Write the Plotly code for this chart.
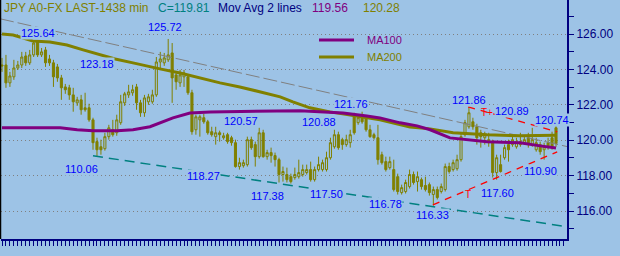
import plotly.graph_objects as go

# ---------------- data ----------------
opens = [124.25, 124.25, 123.24, 123.58, 124.08, 124.25, 124.76, 124.37, 124.82, 125.55,
         124.82, 125.10, 124.59, 124.37, 124.14, 123.52, 123.01, 122.96, 122.56, 122.11,
         122.28, 121.83, 121.83, 121.15, 119.92, 119.63, 119.52, 120.20, 120.59, 120.42,
         120.99, 122.11, 122.56, 122.68, 123.01, 122.11, 121.55, 122.17, 122.17, 122.56,
         124.42, 124.37, 124.54, 124.93, 123.69, 123.24, 123.58, 123.58, 122.68, 120.59,
         121.15, 121.27, 121.04, 120.48, 120.20, 120.42, 120.14, 120.31, 120.14, 119.86,
         118.51, 118.56, 118.62, 120.03, 119.75, 119.07, 120.42, 119.07, 119.30, 119.13,
         118.90, 118.06, 118.06, 117.94, 117.89, 117.94, 118.06, 118.17, 118.34, 117.77,
         118.34, 118.34, 118.34, 119.01, 119.63, 120.31, 120.03, 119.75, 119.86, 121.32,
         120.99, 121.27, 121.27, 120.59, 120.31, 120.14, 119.18, 118.79, 118.45, 118.34,
         117.94, 117.04, 117.10, 117.38, 118.06, 117.66, 117.77, 117.44, 117.49, 116.93,
         117.21, 117.10, 117.21, 118.51, 118.34, 118.39, 118.90, 120.31, 120.76, 121.04,
         120.76, 120.42, 120.14, 120.03, 119.86, 118.17, 118.62, 119.01, 119.75, 119.75,
         119.63, 119.92, 119.86, 120.14, 119.75, 119.46, 119.75, 119.46, 119.86, 120.14,
         120.70]
highs = [124.65, 124.82, 123.86, 124.54, 124.48, 124.99, 124.99, 125.10, 125.64, 125.66,
         125.21, 125.27, 124.82, 124.54, 124.31, 123.69, 123.18, 123.13, 122.96, 122.45,
         122.56, 122.68, 122.06, 121.27, 120.14, 120.03, 120.42, 120.87, 121.15, 121.44,
         122.56, 122.73, 123.13, 123.13, 123.18, 122.28, 122.56, 122.62, 122.85, 124.70,
         124.99, 124.93, 125.72, 125.49, 123.86, 123.97, 123.97, 123.69, 122.85, 121.44,
         121.44, 121.49, 121.15, 120.76, 120.76, 120.54, 120.42, 120.42, 120.25, 120.03,
         119.01, 118.90, 120.20, 120.20, 119.92, 120.70, 120.59, 119.46, 119.58, 119.30,
         119.01, 118.51, 118.45, 118.11, 118.45, 118.90, 118.62, 118.62, 118.79, 118.51,
         119.07, 118.90, 119.35, 120.14, 120.59, 120.48, 120.14, 120.31, 120.59, 121.55,
         121.44, 121.61, 121.38, 120.87, 120.42, 120.87, 119.35, 119.07, 119.07, 118.90,
         118.11, 117.49, 117.77, 118.34, 118.23, 118.23, 117.89, 117.94, 117.61, 117.38,
         117.38, 117.55, 118.68, 118.73, 118.90, 119.18, 120.42, 121.15, 121.89, 121.27,
         120.93, 120.59, 120.48, 120.42, 120.03, 119.18, 119.18, 119.75, 120.03, 120.31,
         120.14, 120.42, 120.20, 120.42, 120.70, 120.14, 119.92, 119.86, 120.14, 120.48,
         120.93]
lows = [123.86, 122.96, 123.01, 123.41, 123.97, 124.08, 124.20, 124.25, 124.70, 124.70,
        124.70, 124.14, 124.20, 123.01, 123.30, 122.28, 122.62, 122.28, 121.61, 121.94,
        121.44, 121.61, 121.04, 119.46, 119.07, 119.18, 119.41, 120.03, 120.20, 120.25,
        120.87, 121.94, 122.39, 122.51, 121.72, 121.32, 121.32, 122.00, 122.06, 122.45,
        123.97, 124.20, 124.42, 122.11, 122.85, 123.01, 123.01, 122.56, 120.31, 120.31,
        120.20, 120.93, 120.31, 120.20, 119.75, 119.92, 120.03, 119.80, 119.69, 118.45,
        118.34, 118.45, 118.51, 119.46, 118.51, 118.96, 119.01, 118.90, 118.73, 118.51,
        117.61, 117.66, 117.61, 117.55, 117.77, 117.83, 117.94, 118.06, 117.66, 117.66,
        118.23, 118.23, 118.23, 118.90, 119.52, 119.46, 119.46, 119.63, 119.58, 120.31,
        120.87, 120.93, 120.48, 120.14, 120.03, 118.62, 118.62, 118.23, 118.34, 117.10,
        116.93, 116.93, 116.99, 117.27, 117.49, 117.10, 117.21, 117.10, 116.87, 116.31,
        116.65, 116.99, 117.10, 118.11, 118.23, 118.28, 118.79, 120.20, 120.65, 120.59,
        119.75, 119.58, 119.75, 119.63, 117.89, 117.77, 118.17, 118.90, 118.79, 119.63,
        119.52, 119.63, 119.75, 119.58, 119.63, 119.35, 119.18, 118.90, 119.46, 119.46,
        119.63]
closes = [124.20, 123.24, 123.63, 124.08, 124.25, 124.70, 124.37, 124.82, 125.49, 124.82,
          124.99, 124.37, 124.37, 123.58, 123.52, 122.96, 122.85, 122.56, 122.17, 122.28,
          121.72, 121.72, 121.15, 119.86, 119.46, 119.46, 120.20, 120.70, 120.31, 121.15,
          122.17, 122.62, 122.73, 122.85, 122.11, 121.55, 122.39, 122.45, 122.56, 124.42,
          124.59, 124.65, 124.82, 123.52, 123.30, 123.69, 123.80, 122.68, 120.48, 121.32,
          121.32, 121.04, 120.42, 120.31, 120.42, 120.31, 120.25, 119.92, 119.86, 118.51,
          118.73, 118.73, 120.03, 119.58, 119.07, 120.42, 119.07, 119.30, 119.13, 118.90,
          118.06, 118.23, 117.77, 117.66, 118.06, 118.17, 118.34, 118.34, 117.77, 118.34,
          118.62, 118.73, 119.01, 119.86, 120.31, 119.58, 119.75, 120.03, 120.31, 120.42,
          121.27, 121.04, 120.59, 120.20, 120.14, 118.90, 118.73, 118.34, 118.79, 117.21,
          117.10, 117.32, 117.61, 118.06, 117.61, 117.94, 117.38, 117.21, 117.04, 117.21,
          116.76, 117.38, 118.51, 118.23, 118.73, 118.90, 120.20, 120.99, 121.55, 120.76,
          120.14, 120.20, 120.31, 119.86, 118.17, 119.01, 118.23, 119.58, 119.46, 120.03,
          119.92, 119.75, 120.03, 119.75, 120.03, 119.86, 119.35, 119.63, 119.58, 119.63,
          119.81]
bar_index = list(range(len(closes)))

ma100_x = [0, 14.7, 19.0, 23.0, 29.1, 33.1, 37.4, 40.7, 43.2, 47.5, 52.6, 75.3, 79.6,
           86.2, 92.2, 95.5, 100.6, 104.9, 108.2, 113.2, 122.6, 130.9, 136.0, 140.0]
ma100_y = [120.70, 120.70, 120.59, 120.53, 120.53, 120.59, 120.76, 121.04, 121.26, 121.54,
           121.60, 121.66, 121.60, 121.54, 121.37, 121.26, 120.98, 120.81, 120.59, 120.13,
           119.91, 119.85, 119.68, 119.56]
ma200_x = [0, 2.8, 4.5, 7.8, 12.1, 16.4, 20.5, 24.8, 28.6, 33.1, 37.4, 39.9, 45.0, 50.0,
           55.1, 60.1, 65.2, 70.3, 73.5, 77.8, 82.9, 87.9, 95.5, 103.1, 108.2, 114.0, 122.6,
           130.9, 140.0]
ma200_y = [126.00, 125.94, 125.83, 125.61, 125.55, 125.38, 125.10, 124.82, 124.59, 124.37,
           124.14, 124.03, 123.80, 123.52, 123.24, 123.01, 122.73, 122.45, 122.17, 121.83,
           121.60, 121.43, 121.15, 120.75, 120.64, 120.42, 120.31, 120.25, 120.28]

resist_x = [-0.5, 142.8]
resist_y = [126.86, 119.64]
support_x = [23.0, 142.8]
support_y = [119.12, 115.11]
wedge_top_x = [117.8, 140.3]
wedge_top_y = [121.88, 120.47]
wedge_bot_x = [108.9, 140.3]
wedge_bot_y = [116.35, 119.34]

pivot_text = ["125.64", "125.72", "123.18", "110.06", "118.27", "120.57", "117.38", "120.88",
              "121.76", "117.50", "116.78", "116.33", "117.60", "121.86", "120.89", "120.74",
              "110.90"]
pivot_x = [9.1, 41.2, 24.0, 20.0, 51.0, 60.4, 67.0, 80.1, 88.2, 82.1, 97.0, 108.9, 125.1,
           118.0, 128.9, 139.0, 136.2]
pivot_y = [126.06, 126.40, 124.31, 118.37, 117.98, 121.08, 116.85, 121.03, 122.05, 116.96,
           116.40, 115.77, 117.02, 122.27, 121.65, 121.14, 118.26]

y_ticks = [116, 118, 120, 122, 124, 126]
y_minor = [115, 117, 119, 121, 123, 125, 127]

# ---------------- style ----------------
BG = "#9DC3E6"
OLIVE = "#808000"
PURPLE = "#800080"
NAVY = "#000080"
TEAL = "#008080"
BLUE = "#0000FF"
RED = "#FF0000"
FONT = "Arial, Liberation Sans, sans-serif"

fig = go.Figure()

fig.add_trace(go.Scatter(x=resist_x, y=resist_y, mode="lines",
                         line=dict(color="#808080", width=1, dash="14px,4px"),
                         hoverinfo="skip", showlegend=False))
fig.add_trace(go.Scatter(x=support_x, y=support_y, mode="lines",
                         line=dict(color=TEAL, width=1.5, dash="10px,6px"),
                         hoverinfo="skip", showlegend=False))

fig.add_trace(go.Candlestick(
    x=bar_index, open=opens, high=highs, low=lows, close=closes,
    increasing=dict(line=dict(color=OLIVE, width=1), fillcolor=BG),
    decreasing=dict(line=dict(color=OLIVE, width=1), fillcolor=OLIVE),
    whiskerwidth=0, showlegend=False, hoverinfo="skip"))

fig.add_trace(go.Scatter(x=ma200_x, y=ma200_y, mode="lines",
                         line=dict(color=OLIVE, width=3), hoverinfo="skip", showlegend=False))
fig.add_trace(go.Scatter(x=ma100_x, y=ma100_y, mode="lines",
                         line=dict(color=PURPLE, width=3), hoverinfo="skip", showlegend=False))

for wx, wy in ((wedge_top_x, wedge_top_y), (wedge_bot_x, wedge_bot_y)):
    fig.add_trace(go.Scatter(x=wx, y=wy, mode="lines",
                             line=dict(color=RED, width=1.3, dash="7px,6px"),
                             hoverinfo="skip", showlegend=False))

annotations = []
for t, ax, ay in zip(pivot_text, pivot_x, pivot_y):
    annotations.append(dict(x=ax, y=ay, xref="x", yref="y", text=t, showarrow=False,
                            font=dict(family=FONT, size=11, color=BLUE),
                            bgcolor=BG, borderpad=0, xanchor="center", yanchor="middle"))
annotations.append(dict(x=122.6, y=121.59, xref="x", yref="y", text="T+", showarrow=False,
                        font=dict(family=FONT, size=10, color=RED), xanchor="center", yanchor="middle"))
annotations.append(dict(x=117.8, y=116.96, xref="x", yref="y", text="T", showarrow=False,
                        font=dict(family=FONT, size=10, color=RED), xanchor="center", yanchor="middle"))

W_PLOT = 566.0
H_PLOT = 239.0
def px(xp):
    return (xp - 1) / W_PLOT
def py(yp):
    return 1 - yp / H_PLOT

header = [("JPY A0-FX LAST-1438 min", OLIVE, 2), ("C=119.81", TEAL, 156),
          ("Mov Avg 2 lines", NAVY, 216), ("119.56", PURPLE, 310), ("120.28", OLIVE, 361)]
for t, c, xp in header:
    annotations.append(dict(x=px(xp), y=py(8), xref="paper", yref="paper", text=t,
                            showarrow=False, font=dict(family=FONT, size=12, color=c),
                            xanchor="left", yanchor="middle"))

legend_items = [("MA100", PURPLE, 40), ("MA200", OLIVE, 57)]
shapes = []
for t, c, yp in legend_items:
    shapes.append(dict(type="line", xref="paper", yref="paper", x0=px(319), x1=px(354),
                       y0=py(yp), y1=py(yp), line=dict(color=c, width=3)))
    annotations.append(dict(x=px(365), y=py(yp), xref="paper", yref="paper", text=t,
                            showarrow=False, font=dict(family=FONT, size=11, color=c),
                            xanchor="left", yanchor="middle"))
shapes.append(dict(type="line", xref="paper", yref="paper", x0=px(0.5), x1=px(0.5),
                   y0=0, y1=1, line=dict(color="black", width=1.5)))

fig.update_layout(
    width=620, height=256,
    margin=dict(l=1, r=53, t=0, b=17),
    paper_bgcolor=BG, plot_bgcolor=BG,
    showlegend=False,
    boxgap=0.25,
    annotations=annotations,
    shapes=shapes,
    xaxis=dict(range=[-0.2527, 142.78], showticklabels=False, ticks="outside", ticklen=5,
               tickcolor=NAVY, tickwidth=1, tick0=0, dtick=1, showline=True, linecolor=NAVY,
               linewidth=2, showgrid=False, zeroline=False, rangeslider=dict(visible=False),
               fixedrange=True),
    yaxis=dict(side="right", range=[114.418, 127.921], tickmode="array", tickvals=y_ticks,
               ticktext=[f"{v:.2f}" for v in y_ticks], ticks="outside", ticklen=5,
               tickcolor=NAVY, tickwidth=1, showline=True, linecolor=NAVY, linewidth=2,
               showgrid=True, gridcolor="#808080", gridwidth=1, griddash="1px,3px",
               zeroline=False, tickfont=dict(family=FONT, size=12, color=NAVY),
               minor=dict(tickmode="array", tickvals=y_minor, ticks="outside", ticklen=5,
                          tickcolor=NAVY, showgrid=False),
               fixedrange=True),
)

fig.write_html("out.html")
